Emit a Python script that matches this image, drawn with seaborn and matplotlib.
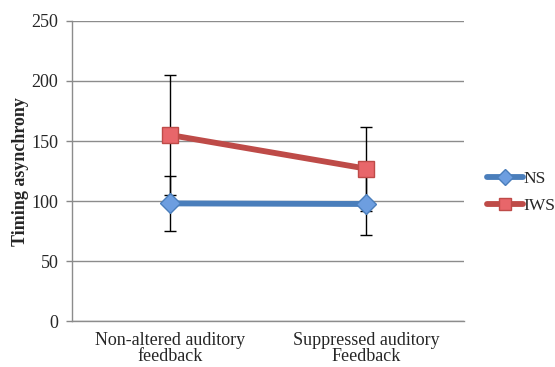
import matplotlib
matplotlib.use("Agg")
import matplotlib.pyplot as plt
import seaborn as sns
import pandas as pd
from matplotlib.lines import Line2D

# Mean timing asynchrony per condition and group, with error bar half-widths
conditions = ["Non-altered auditory\nfeedback", "Suppressed auditory\nFeedback"]
groups = ["NS", "IWS"]
ns_mean = [98, 97.5]
ns_err = [23, 26]
iws_mean = [155, 127]
iws_err = [50, 35]
y_ticks = [0, 50, 100, 150, 200, 250]

sns.set_theme(style="white")
plt.rcParams["font.family"] = ["Liberation Serif"]
FS = 13

colors = {"NS": "#4a7ebb", "IWS": "#be4b48"}
faces = {"NS": "#6d9ee0", "IWS": "#e8666a"}
markers = {"NS": "D", "IWS": "s"}

rows = []
for g, means in zip(groups, [ns_mean, iws_mean]):
    for i, m in enumerate(means):
        rows.append({"pos": i, "value": m, "group": g})
df = pd.DataFrame(rows)

fig = plt.figure(figsize=(5.55, 3.67), dpi=100)
ax = fig.add_axes([0.1297, 0.1253, 0.7063, 0.8175])

# error bars first so markers sit on top
for g, means, errs in zip(groups, [ns_mean, iws_mean], [ns_err, iws_err]):
    ax.errorbar(range(len(means)), means, yerr=errs, fmt="none",
                ecolor="black", elinewidth=1.0, capsize=4, capthick=1.0, zorder=2)

for g in groups:
    sub = df[df["group"] == g]
    sns.lineplot(data=sub, x="pos", y="value", ax=ax, color=colors[g],
                 linewidth=4.2, marker=markers[g],
                 markersize=11 if g == "IWS" else 10.5,
                 markerfacecolor=faces[g], markeredgecolor=colors[g],
                 markeredgewidth=1.0, zorder=3, legend=False)

ax.set_xlim(-0.5, 1.5)
ax.set_ylim(0, 250)
ax.set_yticks(y_ticks)
ax.set_yticklabels([str(t) for t in y_ticks], fontsize=FS)
ax.set_xticks([0, 1])
ax.set_xticklabels(conditions, fontsize=FS, linespacing=0.95)
ax.set_xticks([-0.5, 0.5, 1.5], minor=True)
ax.tick_params(axis="x", which="major", length=0, pad=8)
ax.tick_params(axis="x", which="minor", length=4.3, color="#888888", width=1)
ax.tick_params(axis="y", which="major", length=4.3, color="#888888", width=1,
               direction="out", left=True, pad=5.5)
ax.set_xlabel("")
ax.set_ylabel("Timing asynchrony", fontsize=FS, fontweight="bold")
ax.yaxis.set_label_coords(-0.11, 0.497)
ax.yaxis.grid(True, color="#8c8c8c", linewidth=1.0)
ax.set_axisbelow(True)
for s in ["top", "right"]:
    ax.spines[s].set_visible(False)
for s in ["left", "bottom"]:
    ax.spines[s].set_color("#8c8c8c")
    ax.spines[s].set_linewidth(1.0)

handles = [Line2D([], [], color=colors[g], linewidth=4.2, marker=markers[g],
                  markersize=8, markerfacecolor=faces[g],
                  markeredgecolor=colors[g]) for g in groups]
fig.legend(handles, groups, loc="center left", bbox_to_anchor=(0.865, 0.475),
           frameon=False, handlelength=2.1, handletextpad=0.0,
           labelspacing=0.6, fontsize=12.5, borderaxespad=0)

fig.savefig("out.png", dpi=100)
